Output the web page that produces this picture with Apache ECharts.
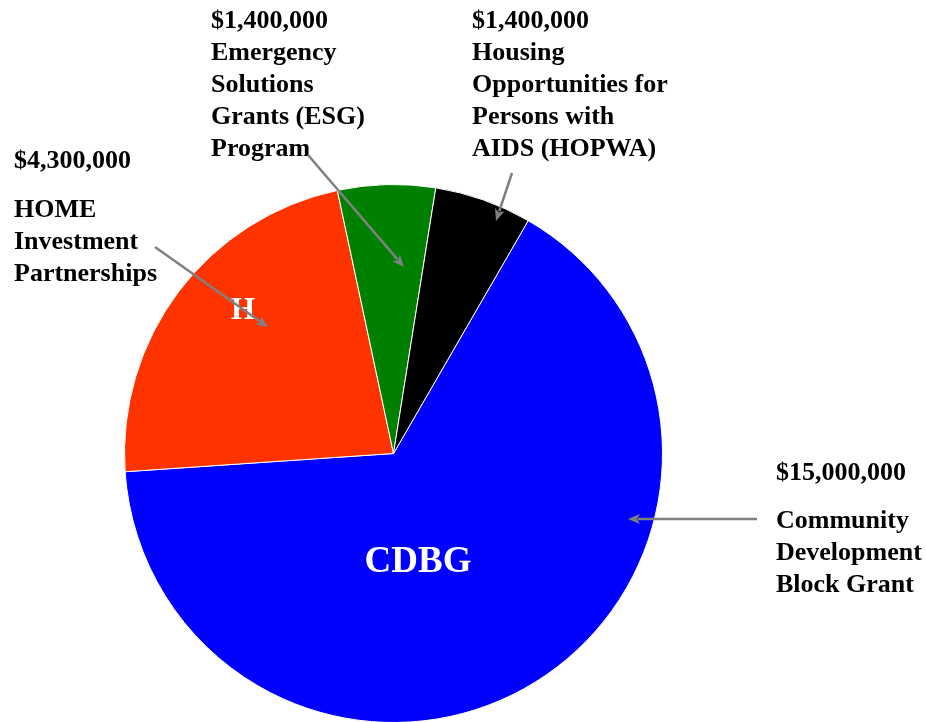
<!DOCTYPE html>
<html>
<head>
<meta charset="utf-8">
<script src="https://cdn.jsdelivr.net/npm/echarts@6/dist/echarts.min.js"></script>
<style>
html,body{margin:0;padding:0;background:#fff;}
#chart{width:926px;height:722px;}
</style>
</head>
<body>
<div id="chart"></div>
<script>
// Data (slice sizes; label amounts as printed)
const categories = ['CDBG', 'HOME', 'ESG', 'HOPWA'];
const values = [15000000, 5200000, 1340000, 1335000];
const amountLabels = ['$15,000,000', '$4,300,000', '$1,400,000', '$1,400,000'];
const nameLabels = [
  ['Community', 'Development', 'Block Grant'],
  ['HOME', 'Investment', 'Partnerships'],
  ['Emergency', 'Solutions', 'Grants (ESG)', 'Program'],
  ['Housing', 'Opportunities for', 'Persons with', 'AIDS (HOPWA)']
];
const innerLabels = ['CDBG', 'H', '', ''];
const colors = ['#0000FF', '#FF3300', '#008000', '#000000'];

// Layout (annotation placement)
const FONT = 'bold 26px "Liberation Serif", "Times New Roman", serif';
const LH = 32;
const layout = [
  { amount: [776, 457], names: [776, 505], arrow: [[757, 519], [628, 519]], inner: [418, 562, 37] },
  { amount: [14, 145], names: [14, 194], arrow: [[155, 247], [268, 327]], inner: [243, 311, 31] },
  { amount: [211, 5], names: [211, 37], arrow: [[308, 155], [404, 267]], inner: null },
  { amount: [472, 5], names: [472, 37], arrow: [[512, 173], [496, 221]], inner: null }
];

const graphics = [];
function arrow(p1, p2) {
  const dx = p2[0] - p1[0], dy = p2[1] - p1[1];
  const len = Math.sqrt(dx * dx + dy * dy);
  const ux = dx / len, uy = dy / len;
  const hl = 12, hw = 5;
  const bx = p2[0] - ux * hl, by = p2[1] - uy * hl;
  graphics.push({
    type: 'line', z: 10,
    shape: { x1: p1[0], y1: p1[1], x2: bx + ux * 2, y2: by + uy * 2 },
    style: { stroke: '#808080', lineWidth: 2.5 }
  });
  graphics.push({
    type: 'polygon', z: 10,
    shape: { points: [[p2[0], p2[1]], [bx - uy * hw, by + ux * hw], [bx + ux * 3, by + uy * 3], [bx + uy * hw, by - ux * hw]] },
    style: { fill: '#808080' }
  });
}

categories.forEach((c, i) => {
  const L = layout[i];
  if (L.inner && innerLabels[i]) {
    graphics.push({
      type: 'text', z: 5, x: L.inner[0], y: L.inner[1],
      style: { text: innerLabels[i], fill: '#fff', font: 'bold ' + L.inner[2] + 'px "Liberation Serif", serif', align: 'center', verticalAlign: 'middle' }
    });
  }
  graphics.push({
    type: 'text', z: 5, x: L.amount[0], y: L.amount[1],
    style: { text: amountLabels[i], fill: '#000', font: FONT, lineHeight: LH, align: 'left', verticalAlign: 'top' }
  });
  graphics.push({
    type: 'text', z: 5, x: L.names[0], y: L.names[1],
    style: { text: nameLabels[i].join('\n'), fill: '#000', font: FONT, lineHeight: LH, align: 'left', verticalAlign: 'top' }
  });
  arrow(L.arrow[0], L.arrow[1]);
});

const chart = echarts.init(document.getElementById('chart'), null, { renderer: 'canvas' });
chart.setOption({
  animation: false,
  backgroundColor: '#ffffff',
  series: [{
    type: 'pie',
    center: [393.5, 453.5],
    radius: [0, 269],
    startAngle: 59.95,
    clockwise: true,
    label: { show: false },
    labelLine: { show: false },
    emphasis: { disabled: true },
    itemStyle: { borderColor: '#ffffff', borderWidth: 1 },
    data: categories.map((c, i) => ({ name: c, value: values[i], itemStyle: { color: colors[i] } }))
  }],
  graphic: graphics
});
</script>
</body>
</html>
